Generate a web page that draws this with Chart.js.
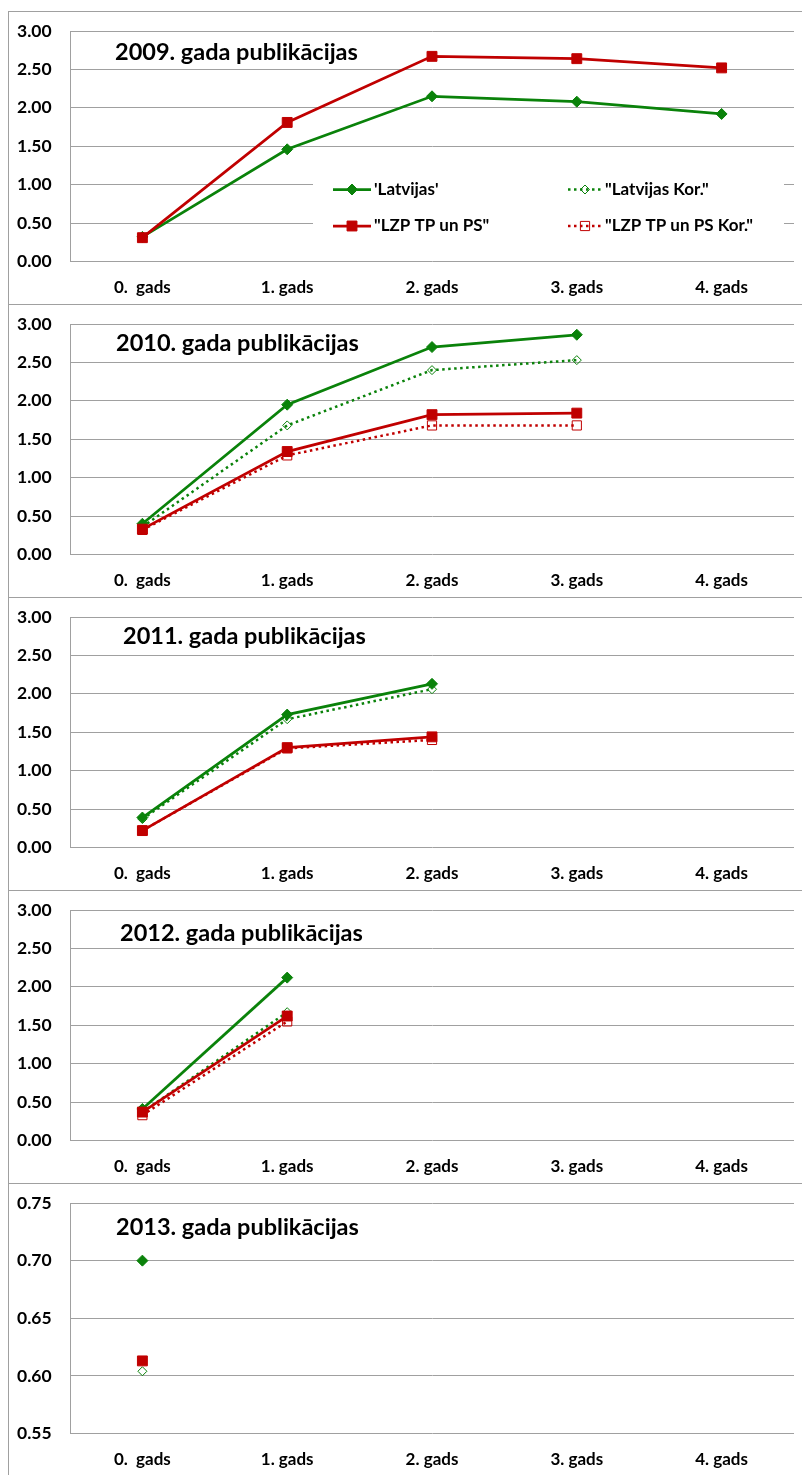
<!DOCTYPE html>
<html>
<head>
<meta charset="utf-8">
<title>Publikāciju citējamība</title>
<script src="https://cdn.jsdelivr.net/npm/chart.js@4.4.1/dist/chart.umd.min.js"></script>
<style>
  html, body { margin: 0; padding: 0; background: #ffffff; }
  body { width: 802px; height: 1475px; position: relative; overflow: hidden; }
  .panel {
    position: absolute; left: 8px; width: 800px; height: 292px;
    border-top: 1px solid #a0a0a0; border-left: 1px solid #a0a0a0;
  }
  .panel canvas { position: absolute; left: 0; top: 0; }
</style>
</head>
<body>
<div id="panels"></div>
<script>
// ---- data ----
const categories = ['0.  gads', '1. gads', '2. gads', '3. gads', '4. gads'];
const years = ['2009', '2010', '2011', '2012', '2013'];

const latvijas2009    = [0.32, 1.46, 2.15, 2.08, 1.92];
const lzp2009         = [0.31, 1.81, 2.67, 2.64, 2.52];
const latvijasKor2009 = [null, null, null, null, null];
const lzpKor2009      = [null, null, null, null, null];

const latvijas2010    = [0.40, 1.95, 2.70, 2.86, null];
const latvijasKor2010 = [0.36, 1.68, 2.40, 2.53, null];
const lzp2010         = [0.33, 1.34, 1.82, 1.84, null];
const lzpKor2010      = [0.32, 1.29, 1.68, 1.68, null];

const latvijas2011    = [0.39, 1.73, 2.13, null, null];
const latvijasKor2011 = [0.37, 1.67, 2.06, null, null];
const lzp2011         = [0.22, 1.30, 1.44, null, null];
const lzpKor2011      = [0.22, 1.29, 1.40, null, null];

const latvijas2012    = [0.41, 2.12, null, null, null];
const latvijasKor2012 = [0.37, 1.67, null, null, null];
const lzp2012         = [0.37, 1.62, null, null, null];
const lzpKor2012      = [0.33, 1.55, null, null, null];

const latvijas2013    = [0.700, null, null, null, null];
const latvijasKor2013 = [0.604, null, null, null, null];
const lzp2013         = [0.613, null, null, null, null];
const lzpKor2013      = [null, null, null, null, null];

const seriesNames = ["'Latvijas'", '"Latvijas Kor."', '"LZP TP un PS"', '"LZP TP un PS Kor."'];

// y-axis ranges per panel
const yMin  = [0, 0, 0, 0, 0.55];
const yMax  = [3, 3, 3, 3, 0.75];
const yStep = [0.5, 0.5, 0.5, 0.5, 0.05];

const panelData = [
  [latvijas2009, latvijasKor2009, lzp2009, lzpKor2009],
  [latvijas2010, latvijasKor2010, lzp2010, lzpKor2010],
  [latvijas2011, latvijasKor2011, lzp2011, lzpKor2011],
  [latvijas2012, latvijasKor2012, lzp2012, lzpKor2012],
  [latvijas2013, latvijasKor2013, lzp2013, lzpKor2013]
];

// ---- styles ----
const GREEN = '#0a820a';
const RED = '#c00000';
const GRID = '#a0a0a0';
const FONT = 'Lato, "Open Sans", sans-serif';
const DOTS = [2.5, 3.5];

const seriesStyle = [
  { color: GREEN, dash: [], width: 2.75, point: 'rectRot', radius: 5.5, fill: GREEN },
  { color: GREEN, dash: DOTS, width: 2.5, point: 'rectRot', radius: 4.5, fill: 'rgba(0,0,0,0)' },
  { color: RED, dash: [], width: 2.75, point: 'rect', radius: 7, fill: RED },
  { color: RED, dash: DOTS, width: 2.5, point: 'rect', radius: 6.5, fill: 'rgba(0,0,0,0)' }
];
// drawing order: first dataset ends up on top
const drawOrder = [2, 0, 1, 3];

// title placement inside the plot area (offset from its top-left corner)
const titleDx = [45, 46, 53, 50, 46];
const titleDy = [21, 19, 19, 23, 24];

const PANEL_TOP = 11, PANEL_STEP = 293;

function marker(ctx, style, x, y) {
  ctx.save();
  ctx.beginPath();
  if (style.point === 'rectRot') {
    const r = style.radius;
    ctx.moveTo(x, y - r); ctx.lineTo(x + r, y); ctx.lineTo(x, y + r); ctx.lineTo(x - r, y);
  } else {
    const h = style.radius * Math.SQRT1_2;
    ctx.rect(x - h, y - h, 2 * h, 2 * h);
  }
  ctx.closePath();
  ctx.fillStyle = style.fill;
  ctx.fill();
  ctx.lineWidth = 1;
  ctx.strokeStyle = style.color;
  ctx.stroke();
  ctx.restore();
}

const panelTitle = {
  id: 'panelTitle',
  afterDraw(chart, args, opts) {
    const ctx = chart.ctx, a = chart.chartArea;
    ctx.save();
    ctx.font = 'bold 23.5px ' + FONT;
    ctx.fillStyle = '#000';
    ctx.textBaseline = 'middle';
    ctx.textAlign = 'left';
    ctx.fillText(opts.text, a.left + opts.dx, a.top + opts.dy);
    ctx.restore();
  }
};

// legend box placed inside the first plot
const legendBox = {
  id: 'legendBox',
  beforeDatasetsDraw(chart, args, opts) {
    if (!opts.show) return;
    const ctx = chart.ctx, a = chart.chartArea;
    const left = a.left + 243, right = a.left + 714;
    const top = a.top + 136, bottom = a.top + 218;
    ctx.save();
    ctx.fillStyle = '#fff';
    ctx.fillRect(left, top, right - left, bottom - top);
    const cols = [a.left + 263, a.left + 498];
    const rows = [a.top + 158.5, a.top + 195];
    const sampleW = [38, 34];
    const cells = [[0, 0, 0], [1, 1, 0], [2, 0, 1], [3, 1, 1]];
    ctx.font = 'bold 17px ' + FONT;
    ctx.textBaseline = 'middle';
    ctx.fillStyle = '#000';
    for (const [s, c, r] of cells) {
      const st = seriesStyle[s];
      const x0 = cols[c], y = rows[r], w = sampleW[c];
      ctx.save();
      ctx.strokeStyle = st.color;
      ctx.lineWidth = st.width;
      ctx.setLineDash(st.dash);
      ctx.beginPath();
      ctx.moveTo(x0, y); ctx.lineTo(x0 + w, y);
      ctx.stroke();
      ctx.restore();
      marker(ctx, st, x0 + w / 2, y);
      ctx.fillStyle = '#000';
      ctx.fillText(seriesNames[s], x0 + w + 3, y);
    }
    ctx.restore();
  }
};

const container = document.getElementById('panels');

panelData.forEach((series, p) => {
  const div = document.createElement('div');
  div.className = 'panel';
  div.style.top = (PANEL_TOP + p * PANEL_STEP) + 'px';
  const canvas = document.createElement('canvas');
  canvas.width = 793; canvas.height = 292;
  canvas.style.width = '793px'; canvas.style.height = '292px';
  div.appendChild(canvas);
  container.appendChild(div);

  const datasets = drawOrder.map(i => {
    const st = seriesStyle[i];
    return {
      label: seriesNames[i],
      data: series[i],
      borderColor: st.color,
      borderWidth: st.width,
      borderDash: st.dash,
      backgroundColor: st.fill,
      pointStyle: st.point,
      pointRadius: st.radius,
      pointHoverRadius: st.radius,
      pointBackgroundColor: st.fill,
      pointBorderColor: st.color,
      pointBorderWidth: 1,
      tension: 0,
      fill: false,
      spanGaps: false
    };
  });

  new Chart(canvas, {
    type: 'line',
    data: { labels: categories, datasets },
    plugins: [panelTitle, legendBox],
    options: {
      responsive: false,
      animation: false,
      events: [],
      layout: { padding: { left: 8, right: 4, top: 19, bottom: 0 } },
      plugins: {
        legend: { display: false },
        tooltip: { enabled: false },
        title: { display: false },
        panelTitle: { text: years[p] + '. gada publikācijas', dx: titleDx[p], dy: titleDy[p] },
        legendBox: { show: p === 0 }
      },
      scales: {
        x: {
          offset: true,
          grid: { display: false, drawTicks: false },
          border: { display: false },
          ticks: { color: '#000', font: { family: FONT, size: 17, weight: 'bold' }, padding: 16, maxRotation: 0, autoSkip: false },
          afterFit(s) { s.height = 42.5; }
        },
        y: {
          min: yMin[p],
          max: yMax[p],
          grid: { color: GRID, lineWidth: 1, drawTicks: false },
          border: { display: true, color: GRID, width: 1 },
          ticks: {
            stepSize: yStep[p],
            color: '#000',
            font: { family: FONT, size: 17.5, weight: 'bold' },
            padding: 0,
            crossAlign: 'far',
            callback: v => Number(v).toFixed(2)
          },
          afterFit(s) { s.width = 53; }
        }
      }
    }
  });
});
</script>
</body>
</html>
